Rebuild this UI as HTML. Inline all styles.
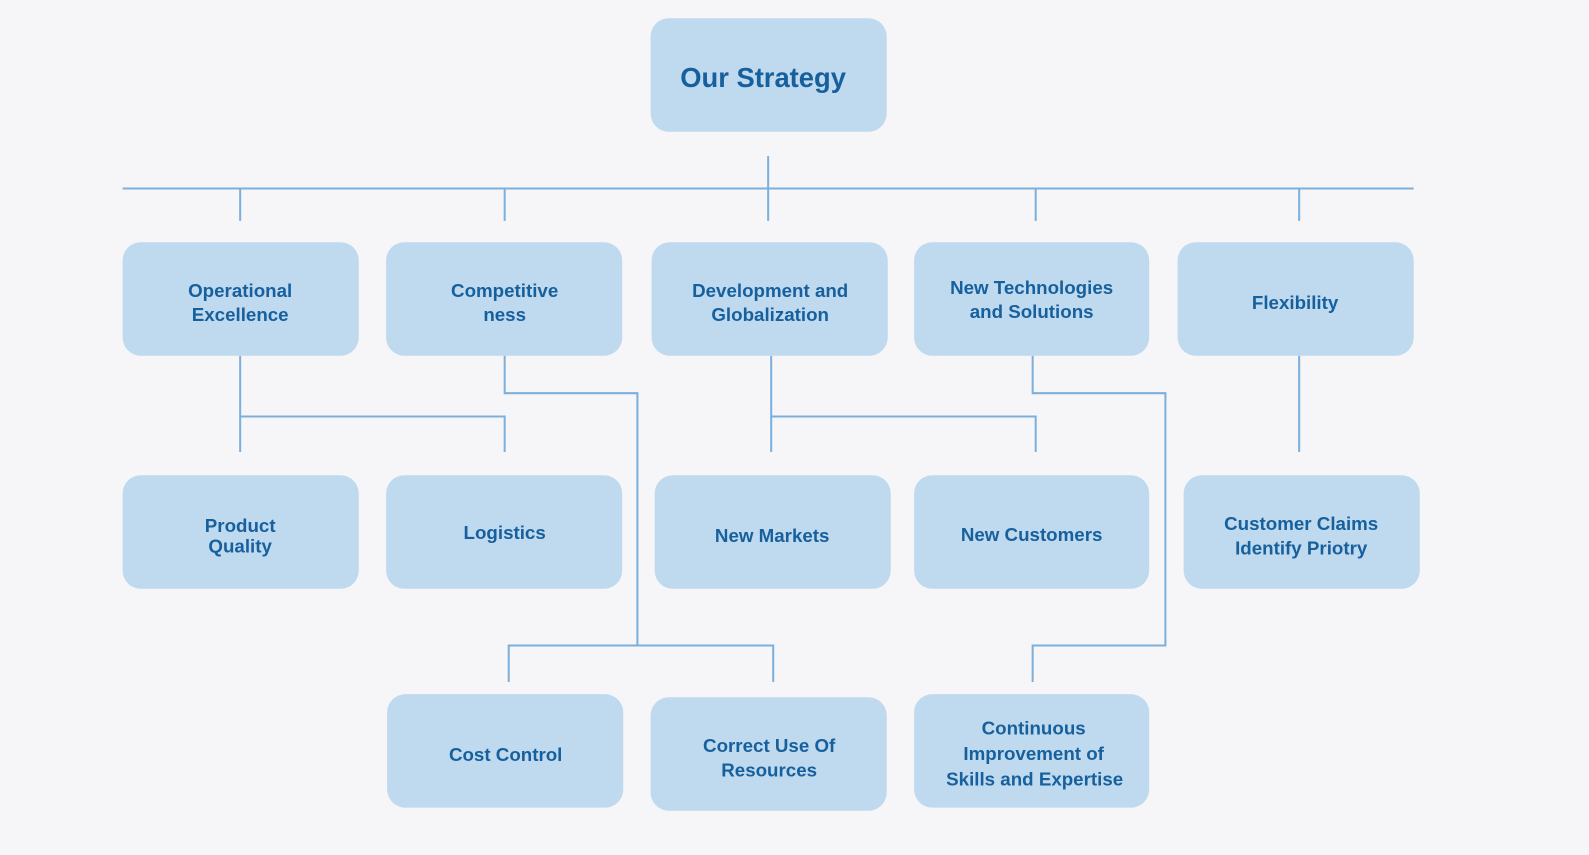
<!DOCTYPE html>
<html><head><meta charset="utf-8"><style>
html,body{margin:0;padding:0;background:#f6f6f8;width:1589px;height:855px;overflow:hidden}
svg{display:block}
text{font-family:"Liberation Sans",sans-serif;font-weight:bold;fill:#17609e;text-anchor:middle;font-size:18.5px}
rect{fill:#bfd9ee}
line,polyline{stroke:#7cb0dc;stroke-width:2;fill:none}
</style></head><body>
<svg width="1589" height="855" viewBox="0 0 1568 843.7">
<rect x="0" y="0" width="1568" height="844" style="fill:#f6f6f8"/>
<!-- connectors -->
<line x1="758" y1="154" x2="758" y2="218"/>
<line x1="121" y1="186" x2="1395" y2="186"/>
<line x1="237" y1="186" x2="237" y2="218"/>
<line x1="498" y1="186" x2="498" y2="218"/>
<line x1="1022" y1="186" x2="1022" y2="218"/>
<line x1="1282" y1="186" x2="1282" y2="218"/>
<line x1="237" y1="351" x2="237" y2="446"/>
<polyline points="237,411 498,411 498,446"/>
<polyline points="498,351 498,388 629,388 629,637"/>
<polyline points="502,673 502,637 763,637 763,673"/>
<line x1="761" y1="351" x2="761" y2="446"/>
<polyline points="761,411 1022,411 1022,446"/>
<polyline points="1019,351 1019,388 1150,388 1150,637 1019,637 1019,673"/>
<line x1="1282" y1="351" x2="1282" y2="446"/>
<!-- boxes -->
<rect x="642" y="18" width="233" height="112" rx="18"/>
<text x="753" y="86" style="font-size:27px">Our Strategy</text>

<rect x="121" y="239" width="233" height="112" rx="18"/>
<text x="237" y="293">Operational</text><text x="237" y="317">Excellence</text>
<rect x="381" y="239" width="233" height="112" rx="18"/>
<text x="498" y="293">Competitive</text><text x="498" y="317">ness</text>
<rect x="643" y="239" width="233" height="112" rx="18"/>
<text x="760" y="293">Development and</text><text x="760" y="317">Globalization</text>
<rect x="902" y="239" width="232" height="112" rx="18"/>
<text x="1018" y="290">New Technologies</text><text x="1018" y="314">and Solutions</text>
<rect x="1162" y="239" width="233" height="112" rx="18"/>
<text x="1278" y="305">Flexibility</text>

<rect x="121" y="469" width="233" height="112" rx="18"/>
<text x="237" y="525">Product</text><text x="237" y="545">Quality</text>
<rect x="381" y="469" width="233" height="112" rx="18"/>
<text x="498" y="532">Logistics</text>
<rect x="646" y="469" width="233" height="112" rx="18"/>
<text x="762" y="535">New Markets</text>
<rect x="902" y="469" width="232" height="112" rx="18"/>
<text x="1018" y="534">New Customers</text>
<rect x="1168" y="469" width="233" height="112" rx="18"/>
<text x="1284" y="523">Customer Claims</text><text x="1284" y="547">Identify Priotry</text>

<rect x="382" y="685" width="233" height="112" rx="18"/>
<text x="499" y="751">Cost Control</text>
<rect x="642" y="688" width="233" height="112" rx="18"/>
<text x="759" y="742">Correct Use Of</text><text x="759" y="766">Resources</text>
<rect x="902" y="685" width="232" height="112" rx="18"/>
<text x="1020" y="725">Continuous</text><text x="1020" y="750">Improvement of</text><text x="1021" y="775">Skills and Expertise</text>
</svg>
</body></html>
